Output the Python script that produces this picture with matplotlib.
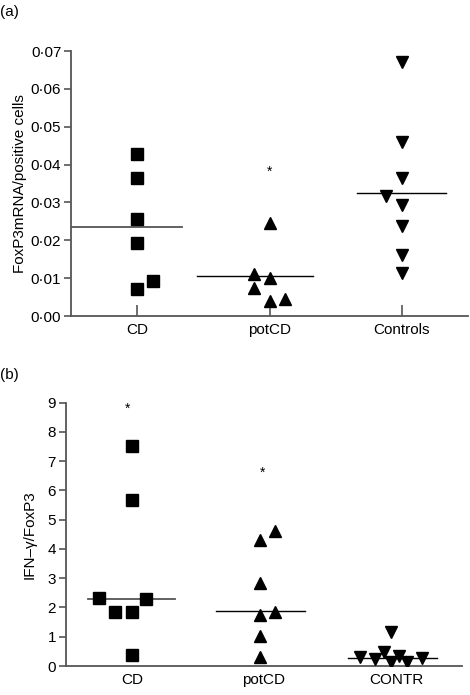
import matplotlib
matplotlib.use('Agg')
import matplotlib.pyplot as plt
from matplotlib.ticker import FuncFormatter, MultipleLocator

plt.rcParams['font.family'] = ['Liberation Sans', 'DejaVu Sans']

# Panel (a): FoxP3 mRNA / positive cells
grupos_a = ['CD', 'potCD', 'Controls']
cd_a = [0.0428, 0.0365, 0.0255, 0.0192, 0.0072, 0.0093]
cd_a_dx = [0, 0, 0, 0, 0, 0.12]
pot_a = [0.0246, 0.0100, 0.0040, 0.0110, 0.0073, 0.0044]
pot_a_dx = [0, 0, 0, -0.12, -0.12, 0.12]
ctr_a = [0.0670, 0.0459, 0.0365, 0.0292, 0.0239, 0.0161, 0.0113, 0.0317]
ctr_a_dx = [0, 0, 0, 0, 0, 0, 0, -0.12]
medianas_a = [0.0236, 0.0105, 0.0326]
estrella_a = [None, 0.038, None]

# Panel (b): IFN-gamma / FoxP3
grupos_b = ['CD', 'potCD', 'CONTR']
cd_b = [7.53, 5.67, 1.86, 0.38, 2.33, 1.86, 2.28]
cd_b_dx = [0, 0, 0, 0, -0.245, -0.13, 0.11]
pot_b = [4.31, 2.83, 1.74, 1.03, 0.30, 4.62, 1.83]
pot_b_dx = [-0.03, -0.03, -0.03, -0.03, -0.03, 0.085, 0.085]
ctr_b = [1.17, 0.32, 0.23, 0.47, 0.15, 0.34, 0.15, 0.26]
ctr_b_dx = [-0.035, -0.27, -0.155, -0.09, -0.035, 0.025, 0.08, 0.2]
medianas_b = [2.30, 1.87, 0.26]
estrella_b = [8.78, 6.59, None]

fig = plt.figure(figsize=(4.7, 6.95), dpi=100)
ax1 = fig.add_axes([0.1511, 0.5453, 0.8447, 0.3813])
ax2 = fig.add_axes([0.1398, 0.0417, 0.8432, 0.3789])

gris = '#555555'


def dibujar(ax, valores, dxs, marcas, medianas, extremos, colores_med, estrellas, est_dx):
    for i, (vals, dx, m) in enumerate(zip(valores, dxs, marcas)):
        ax.plot([i + d for d in dx], vals, linestyle='none', marker=m,
                color='black', markersize=8.5, zorder=3)
    for i, (med, (a, b), c) in enumerate(zip(medianas, extremos, colores_med)):
        ax.plot([i + a, i + b], [med, med], color=c, lw=1.3 if c != 'black' else 1.0, zorder=2)
    for i, e in enumerate(estrellas):
        if e is not None:
            ax.text(i + est_dx[i], e, '*', ha='center', va='center', fontsize=10)
    for s in ['top', 'right']:
        ax.spines[s].set_visible(False)
    for s in ['left', 'bottom']:
        ax.spines[s].set_color(gris)
        ax.spines[s].set_linewidth(1.3)
    ax.set_xlim(-0.5, 2.5)


dibujar(ax1, [cd_a, pot_a, ctr_a], [cd_a_dx, pot_a_dx, ctr_a_dx], ['s', '^', 'v'],
        medianas_a, [(-0.49, 0.34), (-0.55, 0.33), (-0.34, 0.33)],
        [gris, 'black', 'black'], estrella_a, [0, 0, 0])
ax1.set_ylim(0, 0.07)
ax1.yaxis.set_major_locator(MultipleLocator(0.01))
ax1.yaxis.set_major_formatter(FuncFormatter(lambda v, p: f'{v:.2f}'.replace('.', '\u00b7')))
ax1.set_xticks(range(3))
ax1.set_xticklabels(grupos_a, fontsize=11)
ax1.tick_params(axis='x', direction='in', length=8, width=1.2, color=gris, pad=5)
ax1.tick_params(axis='y', direction='out', length=5, width=1.2, color=gris, pad=2, labelsize=11)
ax1.set_ylabel('FoxP3mRNA/positive cells', fontsize=11, labelpad=3)
ax1.spines['left'].set_bounds(0, 0.07)

dibujar(ax2, [cd_b, pot_b, ctr_b], [cd_b_dx, pot_b_dx, ctr_b_dx], ['s', '^', 'v'],
        medianas_b, [(-0.33, 0.33), (-0.36, 0.31), (-0.36, 0.31)],
        [gris, 'black', 'black'], estrella_b, [-0.03, -0.01, 0])
ax2.set_ylim(0, 9)
ax2.yaxis.set_major_locator(MultipleLocator(1))
ax2.set_xticks(range(3))
ax2.set_xticklabels(grupos_b, fontsize=11)
ax2.tick_params(axis='x', length=0, pad=5)
ax2.tick_params(axis='y', direction='out', length=5, width=1.2, color=gris, pad=2, labelsize=11)
ax2.set_ylabel('IFN\u2013\u03b3/FoxP3', fontsize=11, labelpad=8)

fig.text(0.0, 1 - 12 / 695, '(a)', fontsize=11, va='center', ha='left')
fig.text(0.0, 1 - 375 / 695, '(b)', fontsize=11, va='center', ha='left')

fig.savefig('out.png', dpi=100)
